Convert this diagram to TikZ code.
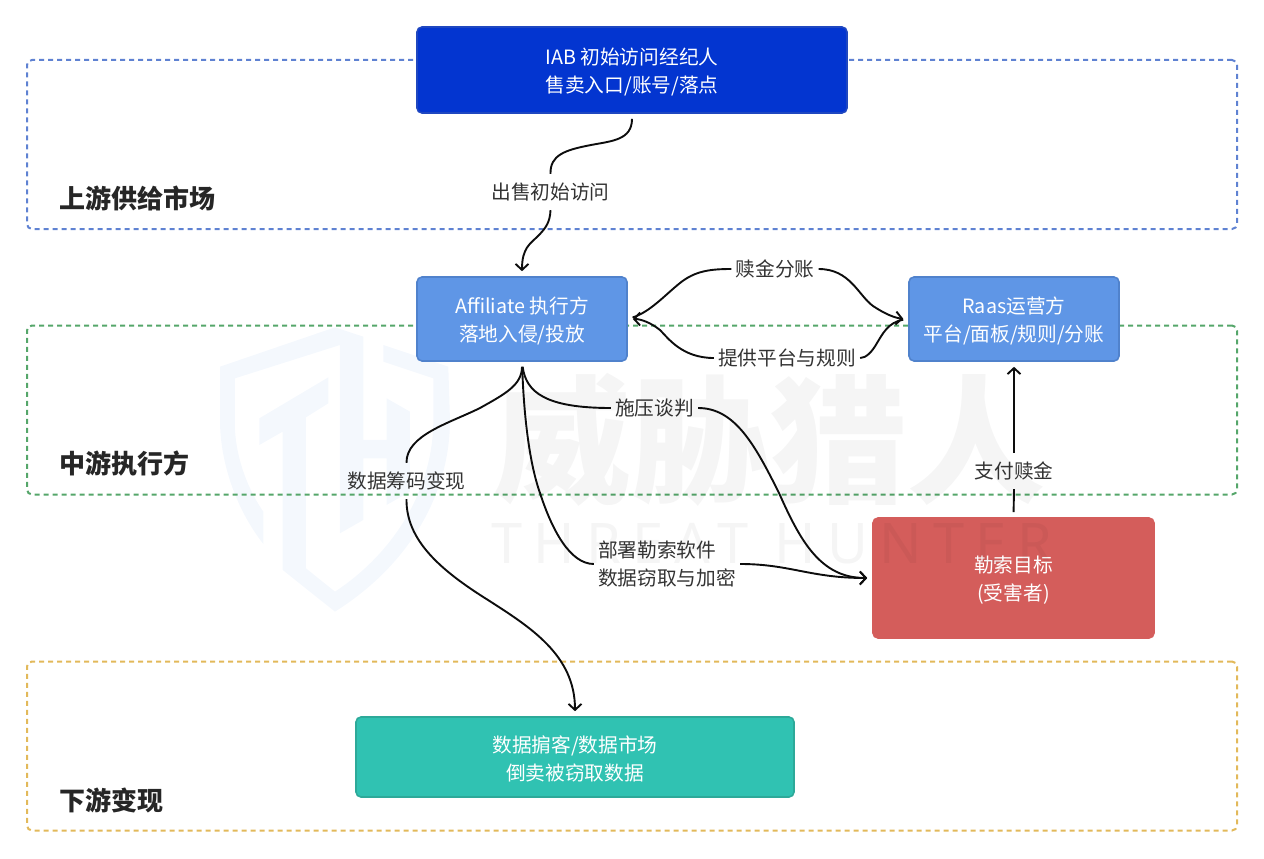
\documentclass[tikz,border=0pt]{standalone}
\usepackage{fontspec}
\setmainfont{Noto Sans CJK SC}
\newfontfamily\wmfont[LetterSpace=20]{Noto Sans}
\usetikzlibrary{arrows.meta}
\definecolor{zoneblue}{HTML}{5F82D2}
\definecolor{zonegreen}{HTML}{55A66A}
\definecolor{zoneyellow}{HTML}{E2B95A}
\definecolor{iabfill}{HTML}{0335D0}
\definecolor{iabline}{HTML}{1F47C0}
\definecolor{execfill}{HTML}{5F96E6}
\definecolor{execline}{HTML}{5082CC}
\definecolor{victimfill}{HTML}{D45D5B}
\definecolor{marketfill}{HTML}{30C2B2}
\definecolor{marketline}{HTML}{2DA999}
\definecolor{shieldfill}{HTML}{F4F8FD}
\newcommand{\padtop}{\rule{0pt}{21pt}}
\begin{document}
\begin{tikzpicture}[
  x=1pt, y=-1pt,
  >={Straight Barb[length=6pt,width=13pt]},
  every node/.style={font=\fontsize{19.7}{28}\selectfont, align=center},
  zone/.style={draw, dashed, dash pattern=on 5pt off 4pt, line width=2pt, rounded corners=5pt,
    minimum width=1210pt, minimum height=169pt, inner sep=0pt},
  zonetitle/.style={anchor=west, inner sep=0pt, text=black!85, font=\fontsize{26}{30}\selectfont\bfseries},
  actor/.style={draw, line width=1.6pt, rounded corners=5pt, text=white, inner sep=0pt},
  flowlabel/.style={inner sep=0pt, inner xsep=4pt, minimum height=36pt, text=black!80},
  flowout/.style={line width=1.9pt, black!95, shorten <=5pt},
  flowto/.style={line width=1.9pt, black!95, shorten >=5pt, ->},
  watermark/.style={inner sep=0pt, text=black, opacity=0.04}
]
  \useasboundingbox (0,0) rectangle (1264,859);

  \begin{scope}[shift={(200,320)}, scale=0.3333]
    \fill[shieldfill] (405,22) -- (490,50) -- (490,360) -- (560,360) -- (560,235) -- (630,275) -- (630,515)
      -- (560,555) -- (560,415) -- (490,415) -- (490,600) -- (420,640) -- (420,75) -- (105,175) -- (105,330)
      .. controls (110,420) and (145,510) .. (190,575) -- (190,672)
      .. controls (110,570) and (60,430) .. (60,300) -- (60,140) -- cycle;
    \fill[shieldfill] (178,295) -- (385,172) -- (385,250) -- (318,292) -- (318,745) -- (405,815)
      .. controls (580,700) and (700,510) .. (700,300) -- (700,175) -- (550,125) -- (550,75) -- (745,140)
      -- (750,300) .. controls (750,530) and (620,740) .. (405,875) -- (248,750) -- (248,335) -- (178,375) -- cycle;
  \end{scope}

  \node[zone, draw=zoneblue] (upper) at (632,144.5) {};
  \node[zone, draw=zonegreen] (middle) at (632,410) {};
  \node[zone, draw=zoneyellow] (lower) at (632,746) {};
  \node[zonetitle] (uppertitle) at (59,198) {上游供给市场};
  \node[zonetitle] (middletitle) at (59,464) {中游执行方};
  \node[zonetitle] (lowertitle) at (59,800) {下游变现};

  \node[actor, fill=iabfill, draw=iabline, minimum width=430pt, minimum height=86pt] (iab) at (632,70) {\padtop IAB 初始访问经纪人\\售卖入口/账号/落点};
  \node[actor, fill=execfill, draw=execline, minimum width=210pt, minimum height=84pt] (affiliate) at (522,319) {\padtop Affiliate 执行方\\落地入侵/投放};
  \node[actor, fill=execfill, draw=execline, minimum width=210pt, minimum height=84pt] (raas) at (1014,319) {\padtop Raas运营方\\平台/面板/规则/分账};
  \node[actor, fill=victimfill, draw=victimfill, minimum width=281pt, minimum height=120pt] (victim) at (1013.5,578) {\padtop 勒索目标\\(受害者)};
  \node[actor, fill=marketfill, draw=marketline, minimum width=438pt, minimum height=80pt] (market) at (575,757) {\padtop 数据掮客/数据市场\\倒卖被窃取数据};

  \node[flowlabel] (sell) at (550.5,192) {出售初始访问};
  \node[flowlabel] (split) at (775,269) {赎金分账};
  \node[flowlabel] (platform) at (787,358) {提供平台与规则};
  \node[flowlabel] (press) at (654.5,408) {施压谈判};
  \node[flowlabel] (extort) at (406.5,481) {数据筹码变现};
  \node[flowlabel, align=left] (deploy) at (667,564) {部署勒索软件\\数据窃取与加密};
  \node[flowlabel] (pay) at (1014,471) {支付赎金};

  \draw[flowout] (iab.south) .. controls (632,140) and (612,141) .. (591,145) .. controls (565,150) and (550,155) .. (sell.north);
  \draw[flowto] (sell.south) .. controls (550,222) and (546,228) .. (538,236) .. controls (530,244) and (522,248) .. (affiliate.north);

  \draw[flowout] (affiliate.east) .. controls (650,312) and (665,295) .. (680,283) .. controls (695,271) and (710,269) .. (split.west);
  \draw[flowto] (split.east) .. controls (850,269) and (858,295) .. (873,306) .. controls (885,314) and (895,318) .. (raas.west);
  \draw[flowout] (raas.west) .. controls (888,322) and (882,335) .. (877,343) .. controls (872,352) and (866,358) .. (platform.east);
  \draw[flowto] (platform.west) .. controls (682,358) and (668,338) .. (660,330) .. controls (650,322) and (640,319) .. (affiliate.east);

  \draw[flowout] (affiliate.south) .. controls (522,385) and (505,394) .. (480,408) .. controls (450,423) and (406,435) .. (extort.north);
  \draw[flowto] (extort.south) .. controls (406,540) and (440,570) .. (488,600) .. controls (530,627) and (575,655) .. (market.north);
  \draw[flowout] (affiliate.south) .. controls (524,420) and (530,465) .. (540,493) .. controls (552,530) and (570,564) .. (deploy.west);
  \draw[flowto] (deploy.east) .. controls (790,564) and (810,578) .. (victim.west);
  \draw[flowout] (affiliate.south) .. controls (526,392) and (545,408) .. (press.west);
  \draw[flowto] (press.east) .. controls (735,408) and (755,445) .. (779,493) .. controls (800,540) and (820,578) .. (victim.west);
  \draw[flowout] (victim.north) -- (pay.south);
  \draw[flowto] (pay.north) -- (raas.south);

  \node[watermark, font=\fontsize{138}{138}\selectfont\bfseries] (wmtitle) at (769,440) {威胁猎人};
  \node[watermark, font=\fontsize{56}{56}\selectfont\wmfont\bfseries] (wmname) at (772,544) {THREAT HUNTER};
\end{tikzpicture}
\end{document}
